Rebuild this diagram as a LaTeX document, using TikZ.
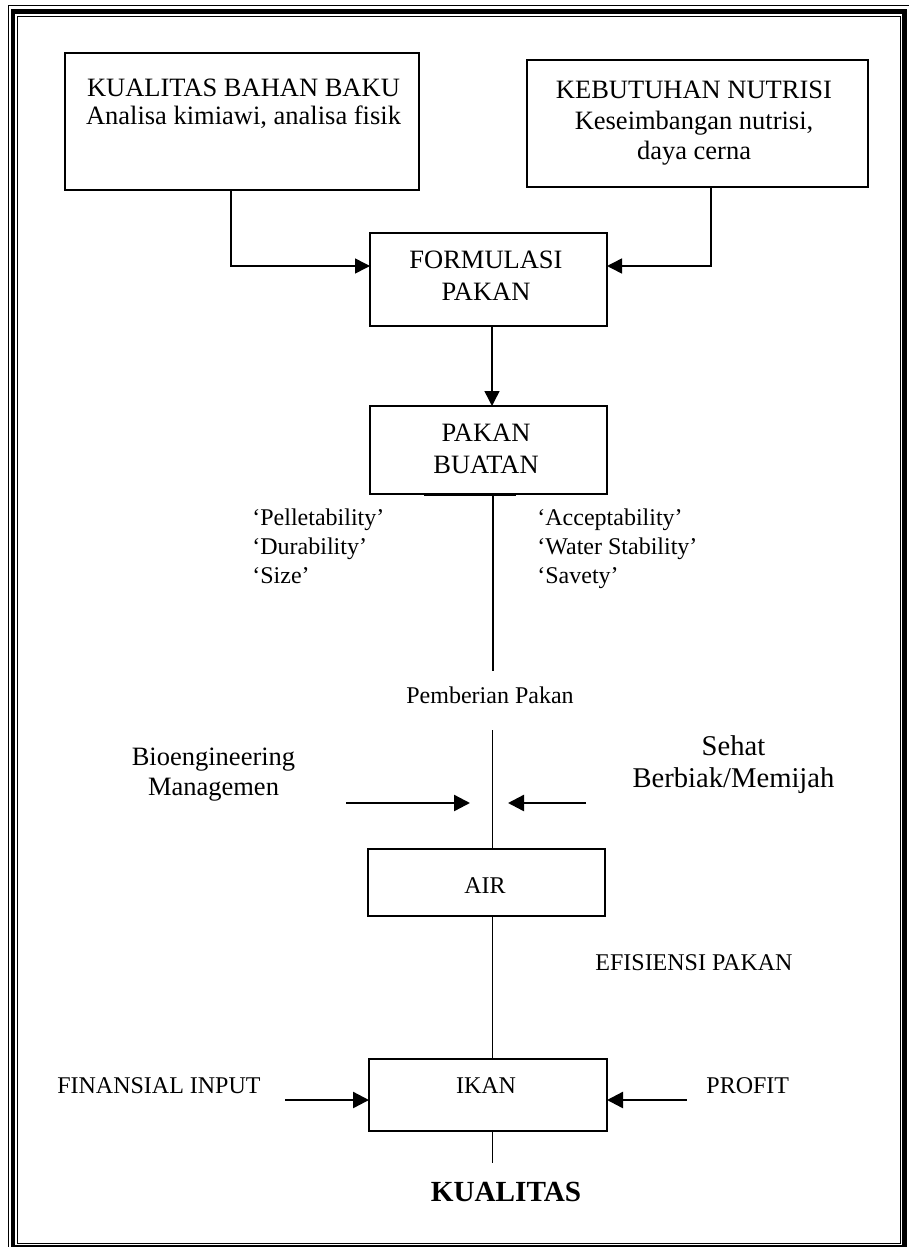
\documentclass[tikz,border=0pt]{standalone}
\usepackage{fontspec}
\setmainfont{Liberation Serif}
\usetikzlibrary{arrows.meta}
\begin{document}
\begin{tikzpicture}[x=0.5pt,y=-0.5pt,
  box/.style={draw,line width=0.75pt,inner sep=0pt,outer sep=0pt,rectangle},
  txt/.style={inner sep=0pt,anchor=base},
  fA/.style={font=\fontsize{13.25}{16}\selectfont},
  fB/.style={font=\fontsize{12}{14}\selectfont},
  fC/.style={font=\fontsize{14.3}{17}\selectfont},
  fD/.style={font=\fontsize{14.6}{17}\selectfont\bfseries},
  arr/.style={line width=0.75pt,-{Triangle[length=7.5pt,width=7.5pt]}},
  arrT/.style={line width=1.2pt,-{Triangle[length=8pt,width=8pt]}},
  ln/.style={line width=0.75pt}]
\useasboundingbox (0,0) rectangle (909,1247);
\fill[white] (0,0) rectangle (909,1247);
% page border (thin-thick-thin)
\draw[line width=0.5pt] (8.5,5.5) rectangle (910,1251);
\draw[line width=2.3pt] (13,11.5) rectangle (904.5,1247);
\draw[line width=0.5pt] (17.2,16.2) rectangle (900,1243);
% boxes
\node[box,minimum width=177pt,minimum height=68.5pt] (b1) at (242,121.5) {};
\node[box,minimum width=170.5pt,minimum height=63.5pt] (b2) at (697.5,123.5) {};
\node[box,minimum width=118.5pt,minimum height=46.5pt] (form) at (488.5,279.5) {};
\node[box,minimum width=118.5pt,minimum height=44pt] (pakan) at (488.5,450) {};
\node[box,minimum width=118.5pt,minimum height=33.5pt] (air) at (486.5,882.5) {};
\node[box,minimum width=119pt,minimum height=36pt] (ikan) at (488,1095) {};
% box texts
\node[txt,fA] (t1a) at (243.5,97) {KUALITAS BAHAN BAKU};
\node[txt,fA] (t1b) at (243.5,125) {Analisa kimiawi, analisa fisik};
\node[txt,fA] (t2a) at (694,99) {KEBUTUHAN NUTRISI};
\node[txt,fA] (t2b) at (694,129) {Keseimbangan nutrisi,};
\node[txt,fA] (t2c) at (694,159) {daya cerna};
\node[txt,fA] (t3a) at (486,268) {FORMULASI};
\node[txt,fA] (t3b) at (486,300) {PAKAN};
\node[txt,fA] (t4a) at (486,441) {PAKAN};
\node[txt,fA] (t4b) at (486,473) {BUATAN};
\node[txt,fB] (tair) at (485,893) {AIR};
\node[txt,fB] (tikan) at (486,1093) {IKAN};
% labels
\node[txt,fB,anchor=base west] (p1) at (252,525) {‘Pelletability’};
\node[txt,fB,anchor=base west] (p2) at (252,554) {‘Durability’};
\node[txt,fB,anchor=base west] (p3) at (252,583) {‘Size’};
\node[txt,fB,anchor=base west] (q1) at (537,525) {‘Acceptability’};
\node[txt,fB,anchor=base west] (q2) at (537,554) {‘Water Stability’};
\node[txt,fB,anchor=base west] (q3) at (537,583) {‘Savety’};
\node[txt,fB] (feed) at (490,703) {Pemberian Pakan};
\node[txt,fA] (bio1) at (213.5,765) {Bioengineering};
\node[txt,fA] (bio2) at (213.5,795) {Managemen};
\node[txt,fC] (seh1) at (733.5,755) {Sehat};
\node[txt,fC] (seh2) at (733.5,787) {Berbiak/Memijah};
\node[txt,fB,anchor=base west] (efi) at (595,970) {EFISIENSI PAKAN};
\node[txt,fB,anchor=base east] (fin) at (261,1093) {FINANSIAL INPUT};
\node[txt,fB,anchor=base west] (prof) at (706,1093) {PROFIT};
\node[txt,fD] (kual) at (506,1201) {KUALITAS};
% connectors
\coordinate (k1) at (231,266);
\coordinate (k2) at (711,266);
\coordinate (k3) at (492,0);
\draw[arr] (b1.south -| k1) |- (form.west |- k1);
\draw[arr] (b2.south -| k2) |- (form.east |- k2);
\draw[arr] (form.south -| k3) -- (pakan.north -| k3);
\coordinate (f1) at (493,671);
\draw[ln] (pakan.south -| f1) -- (f1);
\draw[line width=0.6pt] (424,495.3) -- (516,495.3);
\coordinate (f2) at (492.5,730);
\draw[ln] (f2) -- (air.north -| f2);
\coordinate (bl) at (346,803);
\coordinate (br) at (470,803);
\draw[arrT] (bl) -- (br);
\coordinate (sr) at (586,803);
\coordinate (sl) at (508,803);
\draw[arrT] (sr) -- (sl);
\draw[ln] (air.south -| f2) -- (ikan.north -| f2);
\coordinate (fi) at (285,1100);
\draw[arrT] (fi) -- (ikan.west |- fi);
\coordinate (pr) at (686.5,1100);
\draw[arrT] (pr) -- (ikan.east |- pr);
\coordinate (qq) at (492.5,1163);
\draw[ln] (ikan.south -| qq) -- (qq);
\end{tikzpicture}
\end{document}
